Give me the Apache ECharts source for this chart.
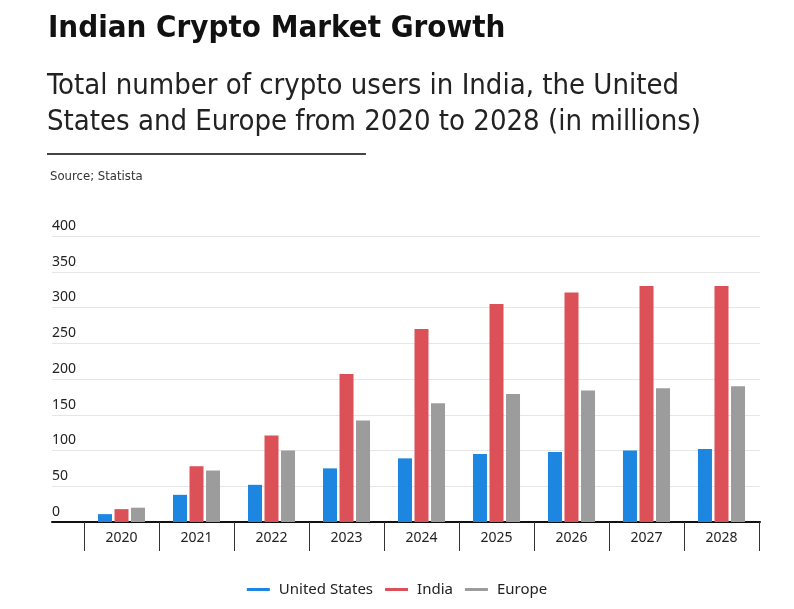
<!DOCTYPE html>
<html>
<head>
<meta charset="utf-8">
<script src="https://cdn.jsdelivr.net/npm/echarts@6/dist/echarts.min.js"></script>
<style>
html,body{margin:0;padding:0;background:#fff;}
#chart{width:794px;height:609px;}
</style>
</head>
<body>
<div id="chart"></div>
<script>
const years = ['2020','2021','2022','2023','2024','2025','2026','2027','2028'];
const unitedStates = [11, 38, 52, 75, 89, 95, 98, 100, 102];
const india = [18, 78, 121, 207, 270, 305, 321, 330, 330];
const europe = [20, 72, 100, 142, 166, 179, 184, 187, 190];
const yTicks = {min: 0, max: 400, interval: 50};

const chart = echarts.init(document.getElementById('chart'));
const fontMain = '"Noto Sans", "Open Sans", sans-serif';
const fontCond = '"Liberation Sans Narrow", "DejaVu Sans Condensed", "Roboto", sans-serif';

chart.setOption({
  backgroundColor: '#ffffff',
  animation: false,
  title: [
    {text: 'Indian Crypto Market Growth', left: 43, top: 8,
     textStyle: {fontFamily: fontCond, fontWeight: 'bold', fontSize: 31, color: '#111'}},
    {text: 'Total number of crypto users in India, the United\nStates and Europe from 2020 to 2028 (in millions)', left: 42, top: 63,
     textStyle: {fontFamily: fontCond, fontWeight: 'normal', fontSize: 29, lineHeight: 36, color: '#222'}},
    {text: 'Source; Statista', left: 45, top: 165,
     textStyle: {fontFamily: fontCond, fontWeight: 'normal', fontSize: 13, color: '#333'}}
  ],
  graphic: [
    {type: 'rect', shape: {x: 47, y: 153, width: 319, height: 2}, style: {fill: '#444'}}
  ],
  legend: {
    data: ['United States', 'India', 'Europe'],
    bottom: 7, left: 'center',
    icon: 'rect', itemWidth: 23, itemHeight: 3, itemGap: 12,
    textStyle: {fontFamily: fontMain, fontSize: 15, color: '#222', padding: [0, 0, 0, 4]}
  },
  grid: [
    {left: 52, right: 34, top: 236, bottom: 87},
    {left: 84, right: 35, top: 236, bottom: 87}
  ],
  xAxis: [
    {type: 'value', gridIndex: 0, min: 0, max: 1, show: true,
     axisLine: {show: true, lineStyle: {color: '#111', width: 2}},
     axisTick: {show: false}, axisLabel: {show: false}, splitLine: {show: false}},
    {type: 'category', gridIndex: 1, data: years,
     axisLine: {show: false},
     axisTick: {show: true, length: 29, lineStyle: {color: '#333', width: 1}},
     axisLabel: {fontFamily: fontMain, fontSize: 14, color: '#222', margin: 9, interval: 0}}
  ],
  yAxis: [
    {type: 'value', gridIndex: 0, min: yTicks.min, max: yTicks.max, interval: yTicks.interval,
     axisLine: {show: false}, axisTick: {show: false},
     splitLine: {lineStyle: {color: '#e6e6e6', width: 1}},
     axisLabel: {inside: true, align: 'left', verticalAlign: 'bottom', margin: 0, padding: [0, 0, 3, 0],
                 fontFamily: fontMain, fontSize: 14, color: '#222'}},
    {type: 'value', gridIndex: 1, min: yTicks.min, max: yTicks.max, interval: yTicks.interval, show: false}
  ],
  series: [
    {name: 'United States', type: 'bar', xAxisIndex: 1, yAxisIndex: 1, data: unitedStates,
     barWidth: 14, barGap: '18%', itemStyle: {color: '#1d86e0'}},
    {name: 'India', type: 'bar', xAxisIndex: 1, yAxisIndex: 1, data: india,
     barWidth: 14, barGap: '18%', itemStyle: {color: '#dc5157'}},
    {name: 'Europe', type: 'bar', xAxisIndex: 1, yAxisIndex: 1, data: europe,
     barWidth: 14, barGap: '18%', itemStyle: {color: '#9c9c9c'}}
  ]
});
</script>
</body>
</html>
